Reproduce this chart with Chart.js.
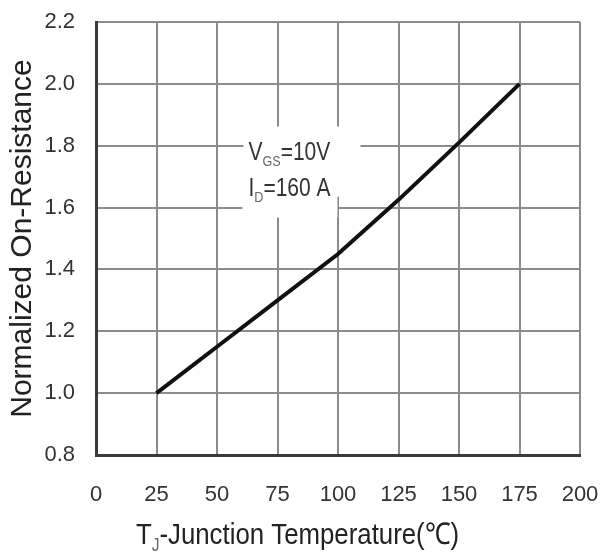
<!DOCTYPE html>
<html lang="en">
<head>
<meta charset="UTF-8">
<title>Normalized On-Resistance vs Junction Temperature</title>
<script src="https://cdn.jsdelivr.net/npm/chart.js@4.4.1/dist/chart.umd.min.js"></script>
<style>
  body { margin: 0; background: #fff; }
  .wrap { width: 605px; height: 555px; position: relative; }
</style>
</head>
<body>
<div class="wrap"><canvas id="rdsChart"></canvas></div>
<script>
// curve data
const temps = [25, 50, 75, 100, 125, 150, 175];
const rdsNorm = [1.0, 1.15, 1.30, 1.45, 1.625, 1.81, 2.0];
const xTicks = [0, 25, 50, 75, 100, 125, 150, 175, 200];
const yTicks = [0.8, 1.0, 1.2, 1.4, 1.6, 1.8, 2.0, 2.2];

// text pieces: [main, subscript, rest]
const noteLines = [['V', 'GS', '=10V'], ['I', 'D', '=160 A']];
const xTitleParts = ['T', 'J', '-Junction Temperature(℃)'];

const FONT = '"Liberation Sans", Arial, sans-serif';

function runsWidth(ctx, parts, size) {
  let w = 0;
  parts.forEach((t, i) => {
    ctx.font = (i === 1 ? size * 0.6 : size) + 'px ' + FONT;
    w += ctx.measureText(t).width;
  });
  return w;
}

// draws main/subscript/rest runs, squeezed horizontally by sx
function drawRuns(ctx, x, y, parts, size, sx, color) {
  ctx.save();
  ctx.translate(x, y);
  ctx.scale(sx, 1);
  ctx.textBaseline = 'alphabetic';
  ctx.textAlign = 'left';
  let cx = 0;
  parts.forEach((t, i) => {
    const sub = i === 1;
    ctx.font = (sub ? size * 0.6 : size) + 'px ' + FONT;
    ctx.fillStyle = sub ? '#666' : color;
    ctx.fillText(t, cx, sub ? size * 0.24 : 0);
    cx += ctx.measureText(t).width;
  });
  ctx.restore();
}

const extras = {
  id: 'extras',
  beforeDatasetsDraw(chart) {
    const ctx = chart.ctx;
    const xs = chart.scales.x, ys = chart.scales.y;
    const ax = xs.getPixelForValue(63);
    const ay = ys.getPixelForValue(1.755);
    // white patch behind the note
    ctx.save();
    ctx.fillStyle = '#fff';
    ctx.fillRect(ax - 5, ay - 33, 117, 70);
    ctx.fillRect(ax - 6, ay + 10, 95, 48);
    ctx.restore();
    drawRuns(ctx, ax, ay, noteLines[0], 25, 0.84, '#333');
    drawRuns(ctx, ax, ay + 36, noteLines[1], 25, 0.84, '#333');
  },
  afterDraw(chart) {
    const ctx = chart.ctx;
    const size = 30, sx = 0.86;
    const w = runsWidth(ctx, xTitleParts, size) * sx;
    drawRuns(ctx, chart.width / 2 - 5 - w / 2, 544, xTitleParts, size, sx, '#222');
  }
};

new Chart(document.getElementById('rdsChart'), {
  type: 'line',
  data: {
    datasets: [{
      data: temps.map((t, i) => ({ x: t, y: rdsNorm[i] })),
      borderColor: '#111',
      borderWidth: 4,
      pointRadius: 0,
      tension: 0,
      fill: false
    }]
  },
  options: {
    responsive: true,
    maintainAspectRatio: false,
    animation: false,
    layout: { padding: { top: 22, right: 25, left: 0, bottom: 0 } },
    plugins: {
      legend: { display: false },
      tooltip: { enabled: false }
    },
    scales: {
      x: {
        type: 'linear',
        min: 0,
        max: 200,
        afterBuildTicks: s => { s.ticks = xTicks.map(v => ({ value: v })); },
        afterFit: s => { s.height = 100; s.paddingLeft = 0; s.paddingRight = 0; },
        ticks: {
          font: { family: FONT, size: 22 },
          color: '#333',
          padding: 27,
          maxRotation: 0
        },
        grid: { color: '#8c8c8c', lineWidth: 2, drawTicks: false },
        border: { color: '#3a3a3a', width: 3 }
      },
      y: {
        min: 0.8,
        max: 2.2,
        afterBuildTicks: s => { s.ticks = yTicks.map(v => ({ value: v })); },
        afterFit: s => { s.width = 96; s.paddingTop = 0; s.paddingBottom = 0; },
        ticks: {
          font: { family: FONT, size: 22 },
          color: '#333',
          padding: 21,
          callback: v => v.toFixed(1)
        },
        grid: { color: '#8c8c8c', lineWidth: 2, drawTicks: false },
        border: { color: '#3a3a3a', width: 3 },
        title: {
          display: true,
          text: 'Normalized On-Resistance',
          font: { family: FONT, size: 30 },
          color: '#222',
          padding: { top: 5, bottom: 0 }
        }
      }
    }
  },
  plugins: [extras]
});
</script>
</body>
</html>
